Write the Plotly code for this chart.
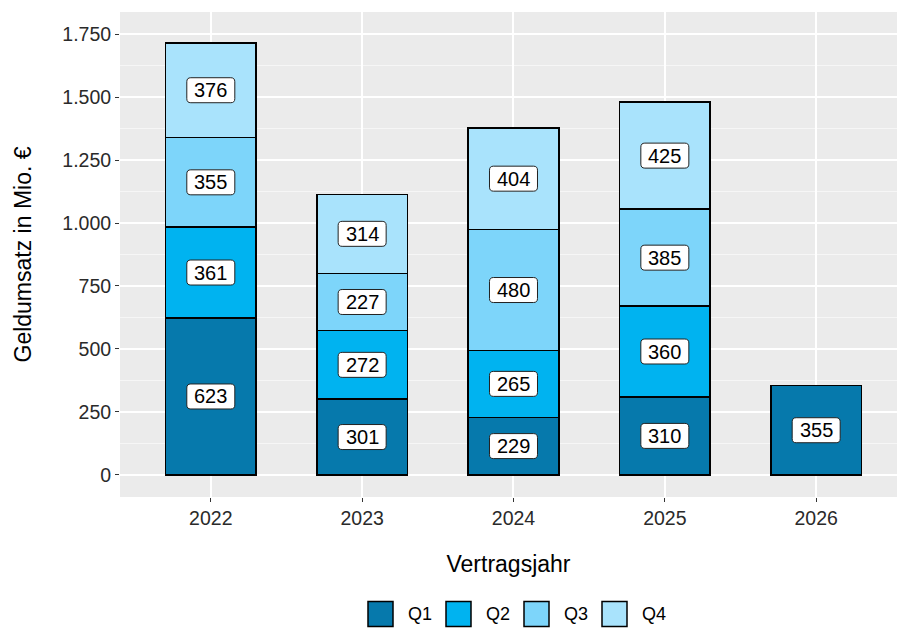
import plotly.graph_objects as go

# Contract years and quarterly turnover (million €)
years = ["2022", "2023", "2024", "2025", "2026"]
q1 = [623, 301, 229, 310, 355]
q2 = [361, 272, 265, 360, None]
q3 = [355, 227, 480, 385, None]
q4 = [376, 314, 404, 425, None]

series_names = ["Q1", "Q2", "Q3", "Q4"]
series_values = [q1, q2, q3, q4]
series_colors = ["#0679AC", "#00B3F0", "#7DD5FA", "#A9E3FC"]

y_tick_vals = [0, 250, 500, 750, 1000, 1250, 1500, 1750]
y_tick_text = ["0", "250", "500", "750", "1.000", "1.250", "1.500", "1.750"]

FONT = "Liberation Sans, Arial, sans-serif"
W, H = 897, 630
ML, MR, MT, MB = 120, 0, 12, 133
PW, PH = W - ML - MR, H - MT - MB
X_RANGE = [-0.6, 4.534]
Y_RANGE = [-87.5, 1837.5]


def px_to_paper(px, py):
    return (px - ML) / PW, (H - MB - py) / PH


def data_to_px(x, y):
    px = ML + (x - X_RANGE[0]) / (X_RANGE[1] - X_RANGE[0]) * PW
    py = MT + (Y_RANGE[1] - y) / (Y_RANGE[1] - Y_RANGE[0]) * PH
    return px, py


def rounded_box_path(cx, cy, w, h, r):
    """Rounded rectangle centred at pixel (cx, cy), returned as a paper-coordinate path."""
    x0, x1 = cx - w / 2, cx + w / 2
    y0, y1 = cy - h / 2, cy + h / 2
    pts = [
        ("M", [(x0 + r, y0)]),
        ("L", [(x1 - r, y0)]),
        ("Q", [(x1, y0), (x1, y0 + r)]),
        ("L", [(x1, y1 - r)]),
        ("Q", [(x1, y1), (x1 - r, y1)]),
        ("L", [(x0 + r, y1)]),
        ("Q", [(x0, y1), (x0, y1 - r)]),
        ("L", [(x0, y0 + r)]),
        ("Q", [(x0, y0), (x0 + r, y0)]),
    ]
    parts = []
    for cmd, coords in pts:
        s = " ".join("%.5f,%.5f" % px_to_paper(px, py) for px, py in coords)
        parts.append(cmd + " " + s)
    return " ".join(parts) + " Z"


fig = go.Figure()
for name, vals, col in zip(series_names, series_values, series_colors):
    fig.add_trace(go.Bar(
        x=list(range(len(years))), y=vals, name=name, width=0.6,
        marker=dict(color=col, line=dict(color="black", width=1.5)),
        showlegend=False,
    ))

# value labels centred in each stacked segment, in rounded white boxes
base = [0] * len(years)
for vals in series_values:
    for i, v in enumerate(vals):
        if v is None:
            continue
        yc = base[i] + v / 2
        cx, cy = data_to_px(i, yc)
        fig.add_shape(type="path", xref="paper", yref="paper",
                      path=rounded_box_path(cx, cy, 48, 25, 4),
                      fillcolor="white", line=dict(color="#222222", width=1),
                      layer="above")
        fig.add_annotation(
            x=i, y=yc, xref="x", yref="y", text=str(v), showarrow=False,
            font=dict(family=FONT, size=20, color="black"),
        )
        base[i] += v

# legend: framed colour keys with labels below the panel
key_size = 25
key_left = 368
key_step = 78
key_cy = 614
for k, (name, col) in enumerate(zip(series_names, series_colors)):
    x0p = key_left + k * key_step
    x0, y0 = px_to_paper(x0p, key_cy + key_size / 2)
    x1, y1 = px_to_paper(x0p + key_size, key_cy - key_size / 2)
    fig.add_shape(type="rect", xref="paper", yref="paper",
                  x0=x0, y0=y0, x1=x1, y1=y1,
                  fillcolor=col, line=dict(color="black", width=1.5))
    tx, ty = px_to_paper(x0p + key_size + 13, key_cy)
    fig.add_annotation(x=tx, y=ty, xref="paper", yref="paper", text=name,
                       showarrow=False, xanchor="left", yanchor="middle",
                       font=dict(family=FONT, size=18, color="black"))

fig.update_layout(
    width=W, height=H,
    margin=dict(l=ML, r=MR, t=MT, b=MB),
    barmode="stack",
    paper_bgcolor="white",
    plot_bgcolor="#EBEBEB",
    font=dict(family=FONT, size=14, color="black"),
    showlegend=False,
    xaxis=dict(
        range=X_RANGE,
        tickvals=list(range(len(years))), ticktext=years,
        showgrid=True, gridcolor="white", gridwidth=2,
        ticks="outside", ticklen=4, tickcolor="#333333", tickwidth=1,
        tickfont=dict(family=FONT, size=19.5, color="#2A2A2A"),
        title=dict(text="Vertragsjahr", standoff=27,
                   font=dict(family=FONT, size=23, color="black")),
        zeroline=False, showline=False,
    ),
    yaxis=dict(
        range=Y_RANGE,
        tickvals=y_tick_vals, ticktext=y_tick_text,
        showgrid=True, gridcolor="white", gridwidth=2,
        minor=dict(showgrid=True, gridcolor="#F6F6F6", gridwidth=1, dtick=125, tick0=125),
        ticks="outside", ticklen=4, tickcolor="#333333", tickwidth=1,
        tickfont=dict(family=FONT, size=19.5, color="#2A2A2A"),
        title=dict(text="Geldumsatz in Mio. €", standoff=24,
                   font=dict(family=FONT, size=23, color="black")),
        zeroline=False, showline=False,
    ),
)

fig.write_html("out.html")
